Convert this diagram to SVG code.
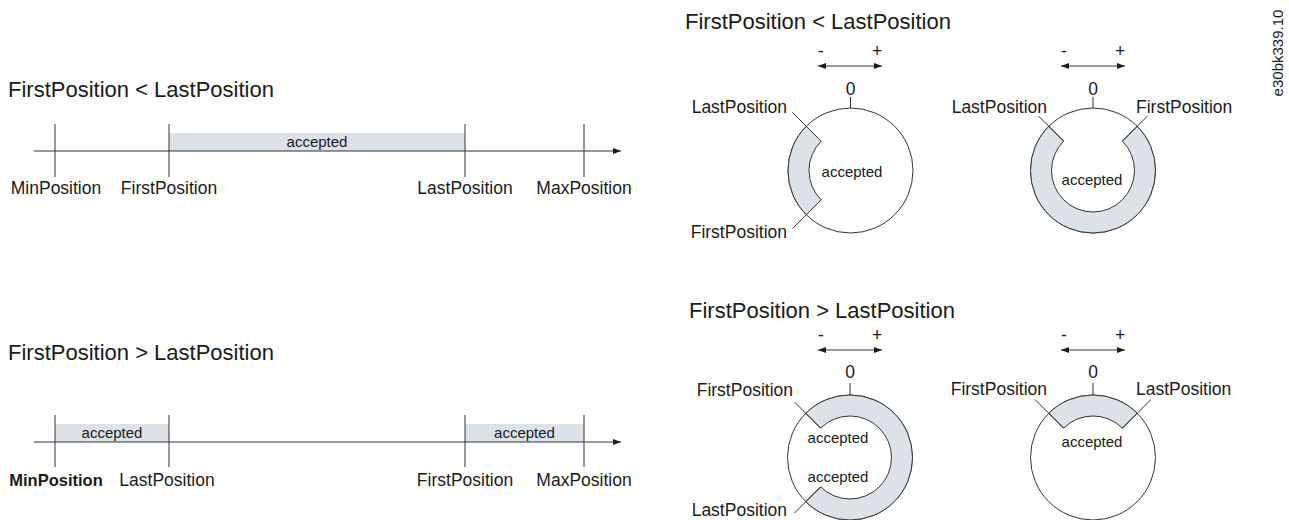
<svg xmlns="http://www.w3.org/2000/svg" width="1289" height="520" viewBox="0 0 1289 520">
<defs>
<style>
text{font-family:"Liberation Sans",Arial,sans-serif;fill:#1a1a1a}
.title{font-size:22px}
.lbl{font-size:17.5px}
.acc{font-size:15px;text-anchor:middle}
.mid{text-anchor:middle}
.end{text-anchor:end}
.ln{stroke:#333;stroke-width:1;fill:none}
.shade{fill:#dce2e7}
.ring{fill:#dce2e7;stroke:#333;stroke-width:1}
.circ{fill:#fff;stroke:#333;stroke-width:1}
</style>
<marker id="ah" viewBox="0 0 8 6" refX="8" refY="3" markerWidth="8" markerHeight="6" markerUnits="userSpaceOnUse" orient="auto-start-reverse">
<path d="M0,0 L8,3 L0,6 Z" fill="#1a1a1a"/>
</marker>
</defs>

<!-- Linear: FirstPosition < LastPosition -->
<g id="linear-top">
<text class="title" x="8" y="97">FirstPosition &lt; LastPosition</text>
<rect class="shade" x="169" y="133" width="296" height="18"/>
<text class="acc" x="317" y="147">accepted</text>
</g>
<g id="linear-bottom">
<text class="title" x="8" y="360">FirstPosition &gt; LastPosition</text>
<rect class="shade" x="55" y="424" width="114" height="18"/>
<rect class="shade" x="465" y="424" width="119" height="18"/>
<text class="acc" x="112" y="438">accepted</text>
<text class="acc" x="524.5" y="438">accepted</text>
</g>

<g id="connectors">
<!-- top axis -->
<line class="ln" x1="34" y1="151" x2="621" y2="151" marker-end="url(#ah)"/>
<line class="ln" x1="55" y1="124" x2="55" y2="177"/>
<line class="ln" x1="169" y1="124" x2="169" y2="177"/>
<line class="ln" x1="465" y1="124" x2="465" y2="177"/>
<line class="ln" x1="584" y1="124" x2="584" y2="177"/>
<!-- bottom axis -->
<line class="ln" x1="34" y1="442" x2="621" y2="442" marker-end="url(#ah)"/>
<line class="ln" x1="55" y1="415" x2="55" y2="467"/>
<line class="ln" x1="169" y1="415" x2="169" y2="467"/>
<line class="ln" x1="465" y1="415" x2="465" y2="467"/>
<line class="ln" x1="584" y1="415" x2="584" y2="467"/>
<!-- direction arrows -->
<line class="ln" x1="818" y1="66" x2="882" y2="66" marker-start="url(#ah)" marker-end="url(#ah)"/>
<line class="ln" x1="1061" y1="66" x2="1125" y2="66" marker-start="url(#ah)" marker-end="url(#ah)"/>
<line class="ln" x1="818" y1="350" x2="882" y2="350" marker-start="url(#ah)" marker-end="url(#ah)"/>
<line class="ln" x1="1061" y1="350" x2="1125" y2="350" marker-start="url(#ah)" marker-end="url(#ah)"/>
</g>

<g id="linear-labels">
<text class="lbl mid" x="56" y="194">MinPosition</text>
<text class="lbl mid" x="169" y="194">FirstPosition</text>
<text class="lbl mid" x="465" y="194">LastPosition</text>
<text class="lbl mid" x="584" y="194">MaxPosition</text>
<text class="lbl mid" x="56" y="486" style="font-weight:bold;font-size:16.5px">MinPosition</text>
<text class="lbl mid" x="167" y="486">LastPosition</text>
<text class="lbl mid" x="465" y="486">FirstPosition</text>
<text class="lbl mid" x="584" y="486">MaxPosition</text>
</g>

<text class="title" x="685" y="29">FirstPosition &lt; LastPosition</text>
<text class="title" x="689" y="318">FirstPosition &gt; LastPosition</text>

<!-- circle top-left -->
<g id="circle-tl">
<text class="lbl mid" x="821" y="57">-</text>
<text class="lbl mid" x="877" y="57">+</text>
<text class="lbl mid" x="850.5" y="95">0</text>
<line class="ln" x1="850.5" y1="97" x2="850.5" y2="108"/>
<circle class="circ" cx="850.5" cy="170.5" r="62.5"/>
<path class="ring" d="M806.31,126.31 A62.5,62.5 0 0 0 806.31,214.69 L821.15,199.85 A41.5,41.5 0 0 1 821.15,141.15 Z"/>
<line class="ln" x1="792.5" y1="112.5" x2="821.15" y2="141.15"/>
<line class="ln" x1="792.5" y1="228.5" x2="821.15" y2="199.85"/>
<text class="lbl end" x="787" y="113">LastPosition</text>
<text class="lbl end" x="787" y="238">FirstPosition</text>
<text class="acc" x="852" y="177">accepted</text>
</g>

<!-- circle top-right -->
<g id="circle-tr">
<text class="lbl mid" x="1064" y="57">-</text>
<text class="lbl mid" x="1120" y="57">+</text>
<text class="lbl mid" x="1093" y="95">0</text>
<line class="ln" x1="1093" y1="97" x2="1093" y2="108"/>
<circle class="circ" cx="1093" cy="170.5" r="62.5"/>
<path class="ring" d="M1048.81,126.31 A62.5,62.5 0 1 0 1137.19,126.31 L1122.35,141.15 A41.5,41.5 0 1 1 1063.65,141.15 Z"/>
<line class="ln" x1="1038.5" y1="116" x2="1063.65" y2="141.15"/>
<line class="ln" x1="1147.5" y1="116" x2="1122.35" y2="141.15"/>
<text class="lbl end" x="1047" y="113">LastPosition</text>
<text class="lbl" x="1136" y="113">FirstPosition</text>
<text class="acc" x="1092" y="185">accepted</text>
</g>

<!-- circle bottom-left -->
<g id="circle-bl">
<text class="lbl mid" x="821" y="341">-</text>
<text class="lbl mid" x="877" y="341">+</text>
<text class="lbl mid" x="850" y="378">0</text>
<line class="ln" x1="850" y1="383" x2="850" y2="395"/>
<circle class="circ" cx="850" cy="457.5" r="62.5"/>
<path class="ring" d="M805.81,413.31 A62.5,62.5 0 1 1 805.81,501.69 L820.65,486.85 A41.5,41.5 0 1 0 820.65,428.15 Z"/>
<line class="ln" x1="794.5" y1="402" x2="820.65" y2="428.15"/>
<line class="ln" x1="794.5" y1="513" x2="820.65" y2="486.85"/>
<text class="lbl end" x="793" y="396">FirstPosition</text>
<text class="lbl end" x="787" y="516">LastPosition</text>
<text class="acc" x="838" y="443">accepted</text>
<text class="acc" x="838" y="482">accepted</text>
</g>

<!-- circle bottom-right -->
<g id="circle-br">
<text class="lbl mid" x="1064" y="341">-</text>
<text class="lbl mid" x="1120" y="341">+</text>
<text class="lbl mid" x="1093" y="378">0</text>
<line class="ln" x1="1093" y1="383" x2="1093" y2="395"/>
<circle class="circ" cx="1093" cy="457.5" r="62.5"/>
<path class="ring" d="M1048.81,413.31 A62.5,62.5 0 0 1 1137.19,413.31 L1122.35,428.15 A41.5,41.5 0 0 0 1063.65,428.15 Z"/>
<line class="ln" x1="1035" y1="399.5" x2="1063.65" y2="428.15"/>
<line class="ln" x1="1151" y1="399.5" x2="1122.35" y2="428.15"/>
<text class="lbl end" x="1047" y="395">FirstPosition</text>
<text class="lbl" x="1136" y="395">LastPosition</text>
<text class="acc" x="1092" y="447">accepted</text>
</g>

<text class="lbl mid" transform="translate(1283,53) rotate(-90)" style="font-size:15px">e30bk339.10</text>
</svg>
